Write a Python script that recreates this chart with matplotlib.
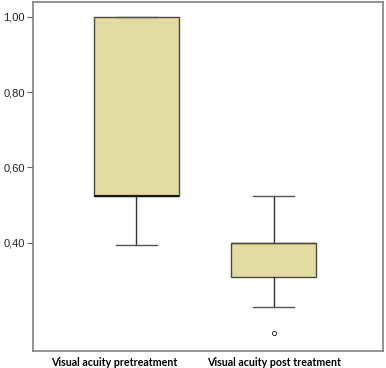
import matplotlib
matplotlib.use("Agg")
import matplotlib.pyplot as plt

categories = ["Visual acuity pretreatment", "Visual acuity post treatment"]
whislo = [0.395, 0.229]
q1 = [0.525, 0.309]
med = [0.525, 0.399]
q3 = [1.00, 0.399]
whishi = [1.00, 0.524]
outliers = [[], [0.160]]
yticks = [0.40, 0.60, 0.80, 1.00]
ytick_labels = ["0,40", "0,60", "0,80", "1,00"]

stats = []
for i, c in enumerate(categories):
    stats.append(dict(label=c, whislo=whislo[i], q1=q1[i], med=med[i],
                      q3=q3[i], whishi=whishi[i], fliers=outliers[i]))

fig = plt.figure(figsize=(3.86, 3.68), dpi=100)
ax = fig.add_axes([0.0855, 0.046, 0.906, 0.9486])

res = ax.bxp(stats, positions=[1, 2], widths=0.616, patch_artist=True,
       showfliers=True,
       boxprops=dict(facecolor="#e3dca2", edgecolor="#4a4a3a", linewidth=1.0),
       medianprops=dict(color="#1a1a1a", linewidth=1.6),
       whiskerprops=dict(color="#333333", linewidth=1.0),
       capprops=dict(color="#555555", linewidth=1.0),
       capwidths=0.30,
       flierprops=dict(marker="o", markersize=3, markerfacecolor="none",
                       markeredgecolor="#333333", markeredgewidth=0.7))
res["medians"][1].set_linewidth(1.0)
res["medians"][1].set_color("#4a4a3a")

ax.set_xlim(0.249, 2.794)
ax.set_ylim(0.1123, 1.039)
ax.set_yticks(yticks)
ax.set_yticklabels(ytick_labels, fontsize=8, family="Liberation Sans", color="#222222")
# category labels sit slightly left of the first box, as in the reference
ax.set_xticks([0.84, 2.004])
ax.set_xticklabels(categories, fontsize=7.7, fontweight="bold", family="Lato")
ax.tick_params(axis="x", length=0, pad=4)
ax.tick_params(axis="y", length=4, width=0.8, color="#666666", pad=2)
for s in ax.spines.values():
    s.set_color("#808080")
    s.set_linewidth(1.2)

fig.savefig("out.png", dpi=100)
